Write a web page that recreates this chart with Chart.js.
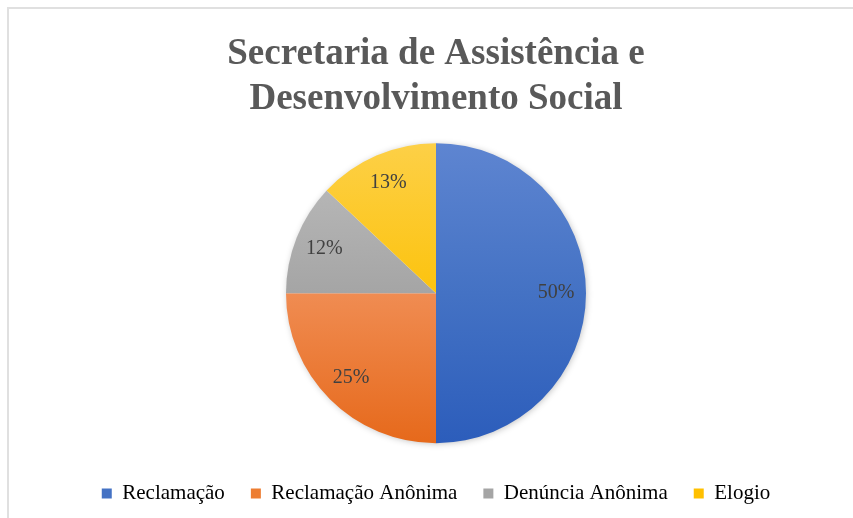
<!DOCTYPE html>
<html>
<head>
<meta charset="utf-8">
<script src="https://cdn.jsdelivr.net/npm/chart.js@4"></script>
<style>
  html, body { margin: 0; padding: 0; background: #ffffff; }
  #wrap { position: relative; width: 853px; height: 518px; overflow: hidden; }
  #frame { position: absolute; left: 7px; top: 7px; width: 900px; height: 600px;
           border-left: 2px solid #e0e0e0; border-top: 2px solid #e0e0e0; }
  canvas { position: absolute; left: 0; top: 0; }
</style>
</head>
<body>
<div id="wrap">
  <div id="frame"></div>
  <canvas id="c" width="853" height="518"></canvas>
</div>
<script>
const titleLines = ['Secretaria de Assistência e', 'Desenvolvimento Social'];
const categories = ['Reclamação', 'Reclamação Anônima', 'Denúncia Anônima', 'Elogio'];
const shares = [50, 25, 12, 13];
const gradientStops = [
  ['#5e85d1', '#4472c4', '#2c5dbb'],
  ['#f6a977', '#f08c52', '#e6691b'],
  ['#bdbdbd', '#a5a5a5', '#8e8e8e'],
  ['#fdd047', '#fcc30e', '#eeb400']
];
const legendSwatch = ['#4472c4', '#ed7d31', '#a5a5a5', '#ffc000'];
const PIE_RADIUS = 150;

const SERIF = "'Liberation Serif', 'Times New Roman', serif";

function sliceFill(ctx) {
  const chart = ctx.chart;
  const area = chart.chartArea;
  if (!area) return legendSwatch[ctx.dataIndex];
  const cy = (area.top + area.bottom) / 2;
  const g = chart.ctx.createLinearGradient(0, cy - PIE_RADIUS, 0, cy + PIE_RADIUS);
  const s = gradientStops[ctx.dataIndex];
  g.addColorStop(0, s[0]);
  g.addColorStop(0.5, s[1]);
  g.addColorStop(1, s[2]);
  return g;
}

const shadowPlugin = {
  id: 'pieShadow',
  beforeDatasetsDraw(chart) {
    const arc = chart.getDatasetMeta(0).data[0];
    if (!arc) return;
    const c = chart.ctx;
    c.save();
    c.shadowColor = 'rgba(0,0,0,0.28)';
    c.shadowBlur = 7;
    c.shadowOffsetX = 1;
    c.shadowOffsetY = 1;
    c.fillStyle = '#ffffff';
    c.beginPath();
    c.arc(arc.x, arc.y, arc.outerRadius - 1, 0, Math.PI * 2);
    c.fill();
    c.restore();
  }
};

const labelPlugin = {
  id: 'sliceLabels',
  afterDatasetsDraw(chart) {
    const meta = chart.getDatasetMeta(0);
    const c = chart.ctx;
    const total = shares.reduce((a, b) => a + b, 0);
    c.save();
    c.font = '20px ' + SERIF;
    c.fillStyle = '#404040';
    c.textAlign = 'center';
    c.textBaseline = 'middle';
    meta.data.forEach((arc, i) => {
      const mid = (arc.startAngle + arc.endAngle) / 2;
      const r = arc.outerRadius * 0.8;
      const x = arc.x + Math.cos(mid) * r;
      const y = arc.y + Math.sin(mid) * r;
      c.fillText(Math.round(shares[i] / total * 100) + '%', x, y);
    });
    c.restore();
  }
};

new Chart(document.getElementById('c'), {
  type: 'pie',
  data: {
    labels: categories,
    datasets: [{
      data: shares,
      backgroundColor: sliceFill,
      borderWidth: 0,
      radius: PIE_RADIUS
    }]
  },
  options: {
    responsive: false,
    animation: false,
    layout: { padding: { left: 19, right: 0, top: 0, bottom: 4 } },
    plugins: {
      tooltip: { enabled: false },
      title: {
        display: true,
        text: titleLines,
        color: '#595959',
        font: { family: SERIF, size: 37, weight: 'bold', lineHeight: 1.22 },
        padding: { top: 32, bottom: 7 }
      },
      legend: {
        position: 'bottom',
        labels: {
          color: '#595959',
          font: { family: SERIF, size: 21 },
          boxWidth: 10,
          boxHeight: 10,
          padding: 26,
          generateLabels(chart) {
            return categories.map((t, i) => ({
              text: t,
              fillStyle: legendSwatch[i],
              strokeStyle: legendSwatch[i],
              lineWidth: 0,
              index: i
            }));
          }
        }
      }
    }
  },
  plugins: [shadowPlugin, labelPlugin]
});
</script>
</body>
</html>
